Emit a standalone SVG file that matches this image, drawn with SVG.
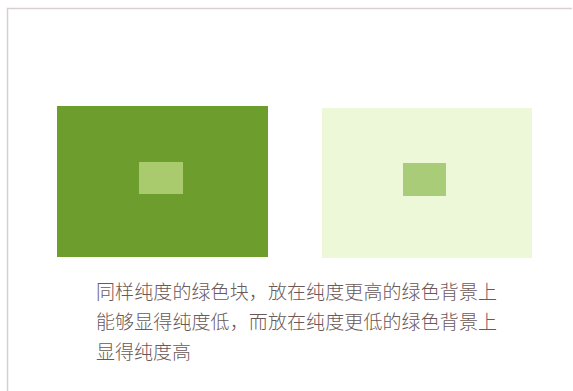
<svg xmlns="http://www.w3.org/2000/svg" width="573" height="391" viewBox="0 0 573 391">
<style>
.cap{font-family:"Noto Sans CJK SC","Noto Sans",sans-serif;font-size:19px;fill:#6b5858;font-weight:300}
</style>
<rect x="0" y="0" width="573" height="391" fill="#ffffff"/>
<path d="M7.5,391 V8.5 H572" fill="none" stroke="#d9ced1" stroke-width="1.5"/>
<g id="left-panel">
<rect x="57" y="106" width="211" height="151" fill="#6d9d2c"/>
<rect x="139" y="162" width="44" height="32" fill="#a9cb6d"/>
</g>
<g id="right-panel">
<rect x="322" y="108" width="210" height="150" fill="#ecf8d7"/>
<rect x="403" y="163" width="43" height="33" fill="#a9cc79"/>
</g>
<g id="caption">
<text class="cap" x="96" y="299" textLength="401" lengthAdjust="spacing">同样纯度的绿色块，放在纯度更高的绿色背景上</text>
<text class="cap" x="96" y="329" textLength="401" lengthAdjust="spacing">能够显得纯度低，而放在纯度更低的绿色背景上</text>
<text class="cap" x="96" y="359">显得纯度高</text>
</g>
</svg>
